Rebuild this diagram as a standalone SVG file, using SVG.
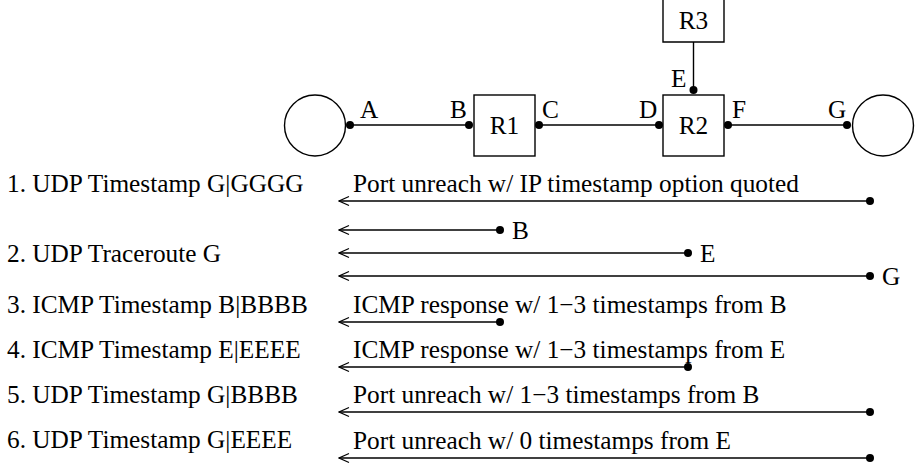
<svg xmlns="http://www.w3.org/2000/svg" width="915" height="465" viewBox="0 0 915 465">
  <style>
    .lbl { font-family: 'Liberation Serif', 'Times New Roman', Times, serif; font-size: 25.3px; fill: #000; }
    .mid { text-anchor: middle; }
    .ln { stroke: #000; stroke-width: 1.4; fill: none; }
    .shape { stroke: #000; stroke-width: 1.4; fill: #fff; }
    .dot { fill: #000; }
    .msg { stroke: #000; stroke-width: 1.4; fill: none; marker-start: url(#open); }
  </style>
  <defs>
    <marker id="open" viewBox="0 0 12 12" refX="1" refY="6" markerWidth="12" markerHeight="12" markerUnits="userSpaceOnUse" orient="auto">
      <path d="M11,1.5 L1,6 L11,10.5" fill="none" stroke="#000" stroke-width="1.2"/>
    </marker>
  </defs>

  <rect width="915" height="465" fill="#fff"/>

  <g class="lbl">
  <!-- network links -->
  <g id="links">
    <line class="ln" x1="350" y1="125" x2="469" y2="125"/>
    <line class="ln" x1="539" y1="125" x2="659" y2="125"/>
    <line class="ln" x1="728" y1="125" x2="847" y2="125"/>
    <line class="ln" x1="693.5" y1="42" x2="693.5" y2="90"/>
  </g>

  <!-- hosts and routers -->
  <g id="host-src">
    <circle class="shape" cx="315" cy="125.5" r="30.5"/>
  </g>
  <g id="host-dst">
    <circle class="shape" cx="883" cy="125.5" r="30.5"/>
  </g>
  <g id="r1">
    <rect class="shape" x="474" y="95" width="61" height="61"/>
    <text class="mid" x="504.5" y="134">R1</text>
  </g>
  <g id="r2">
    <rect class="shape" x="663" y="95" width="61" height="61"/>
    <text class="mid" x="693.5" y="134">R2</text>
  </g>
  <g id="r3">
    <path class="shape" d="M663,0 V42 H724 V0"/>
    <text class="mid" x="693.5" y="29">R3</text>
  </g>

  <!-- interface points -->
  <g id="interfaces">
    <circle class="dot" cx="350" cy="125" r="4"/>
    <circle class="dot" cx="469" cy="125" r="4"/>
    <circle class="dot" cx="539" cy="125" r="4"/>
    <circle class="dot" cx="659" cy="125" r="4"/>
    <circle class="dot" cx="728" cy="125" r="4"/>
    <circle class="dot" cx="847" cy="125" r="4"/>
    <circle class="dot" cx="693.5" cy="90" r="4"/>
    <text x="360" y="118">A</text>
    <text x="450" y="118">B</text>
    <text x="542" y="118">C</text>
    <text x="639" y="118">D</text>
    <text x="671" y="87">E</text>
    <text x="732" y="118">F</text>
    <text x="828" y="118">G</text>
  </g>

  <!-- probe list -->
  <g id="probes">
    <text x="7" y="192">1. UDP Timestamp G|GGGG</text>
    <text x="7" y="262">2. UDP Traceroute G</text>
    <text x="7" y="313">3. ICMP Timestamp B|BBBB</text>
    <text x="7" y="358">4. ICMP Timestamp E|EEEE</text>
    <text x="7" y="403">5. UDP Timestamp G|BBBB</text>
    <text x="7" y="448">6. UDP Timestamp G|EEEE</text>
  </g>

  <!-- replies -->
  <g id="replies">
    <line class="msg" x1="339" y1="201" x2="870" y2="201"/>
    <circle class="dot" cx="870" cy="201" r="4"/>
    <text x="353" y="192">Port unreach w/ IP timestamp option quoted</text>

    <line class="msg" x1="339" y1="230" x2="500" y2="230"/>
    <circle class="dot" cx="500" cy="230" r="4"/>
    <text x="512" y="238.5">B</text>
    <line class="msg" x1="339" y1="253" x2="688" y2="253"/>
    <circle class="dot" cx="688" cy="253" r="4"/>
    <text x="700" y="261.5">E</text>
    <line class="msg" x1="339" y1="276" x2="870" y2="276"/>
    <circle class="dot" cx="870" cy="276" r="4"/>
    <text x="882" y="284.5">G</text>

    <line class="msg" x1="339" y1="322" x2="500" y2="322"/>
    <circle class="dot" cx="500" cy="322" r="4"/>
    <text x="353" y="313">ICMP response w/ 1−3 timestamps from B</text>

    <line class="msg" x1="339" y1="367" x2="688" y2="367"/>
    <circle class="dot" cx="688" cy="367" r="4"/>
    <text x="353" y="358">ICMP response w/ 1−3 timestamps from E</text>

    <line class="msg" x1="339" y1="412" x2="870" y2="412"/>
    <circle class="dot" cx="870" cy="412" r="4"/>
    <text x="353" y="403">Port unreach w/ 1−3 timestamps from B</text>

    <line class="msg" x1="339" y1="458" x2="870" y2="458"/>
    <circle class="dot" cx="870" cy="458" r="4"/>
    <text x="353" y="449">Port unreach w/ 0 timestamps from E</text>
  </g>
  </g>
</svg>
